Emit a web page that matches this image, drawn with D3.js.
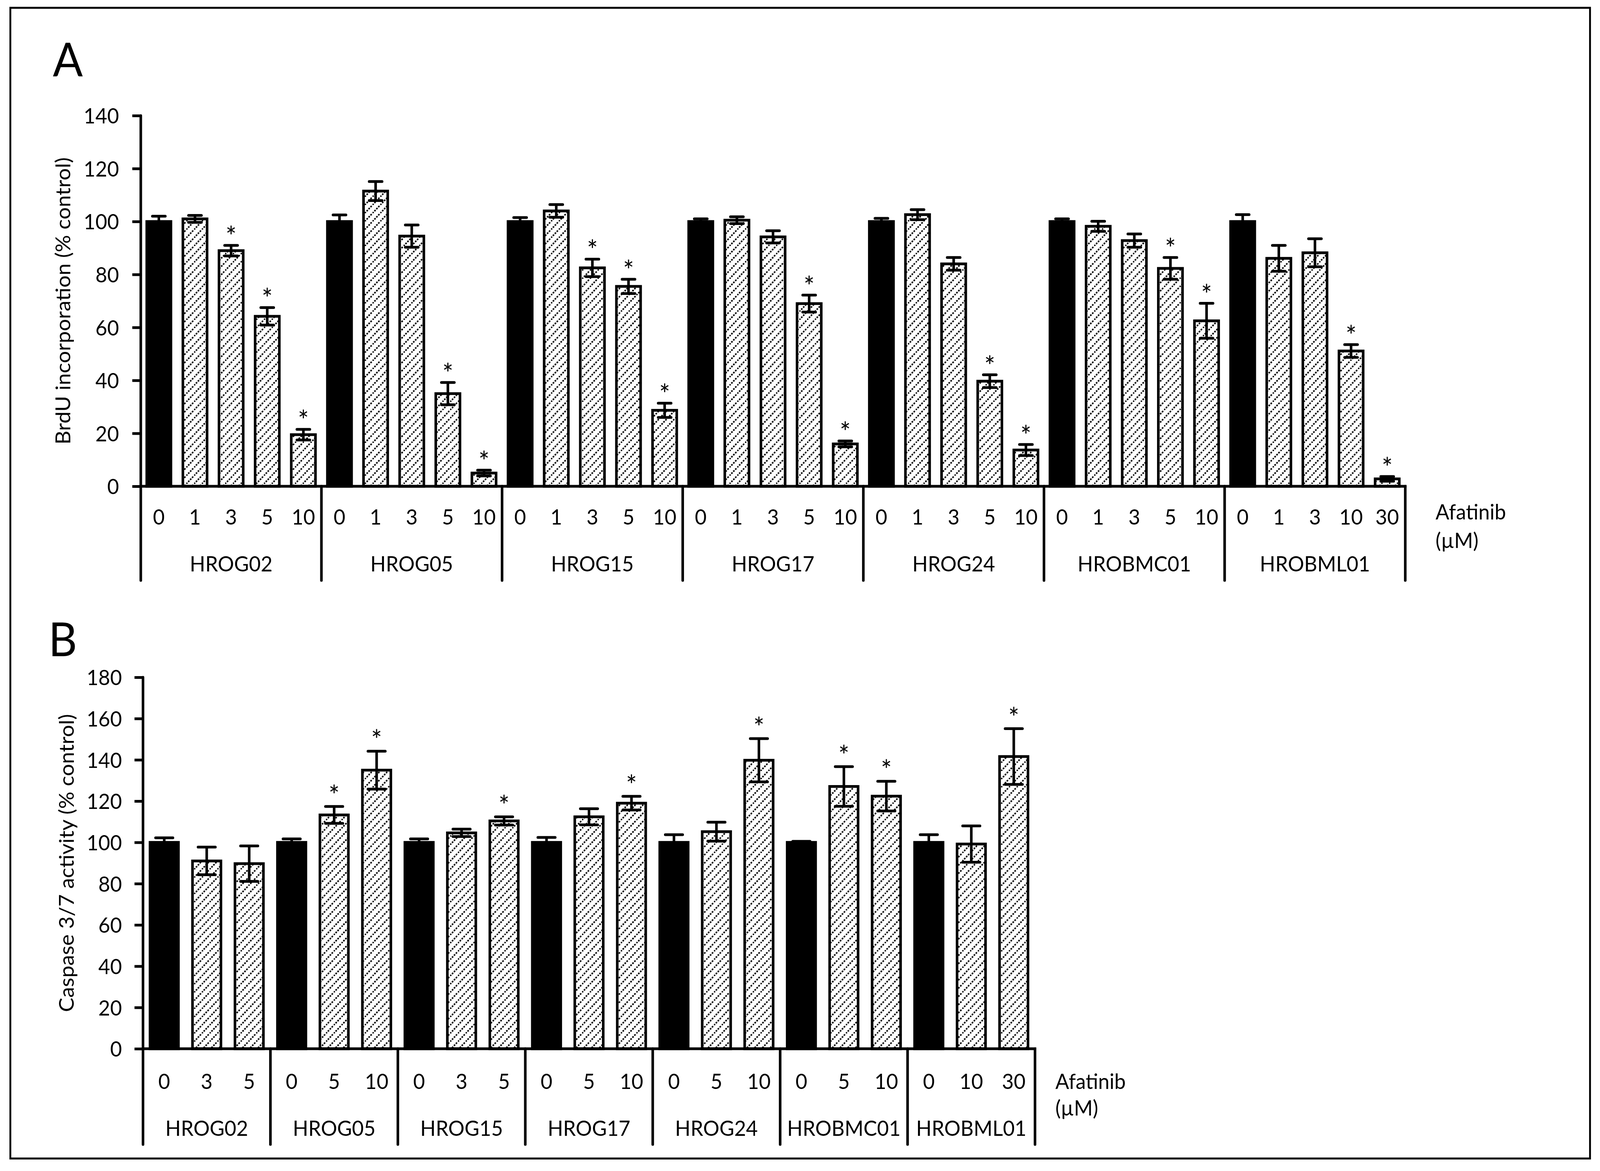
<!DOCTYPE html>
<html lang="en">
<head>
<meta charset="UTF-8">
<title>Afatinib: BrdU incorporation and caspase 3/7 activity</title>
<script src="https://d3js.org/d3.v7.min.js"></script>
<style>
    html, body { margin: 0; padding: 0; background: white; overflow: hidden; }
    #chart svg { display: block; width: 100vw; height: 100vh; }
    svg text { font-family: Lato, "Open Sans", sans-serif; fill: black; }
</style>
</head>
<body>
<div id="chart"></div>
<script>
    const cellLines = ["HROG02", "HROG05", "HROG15", "HROG17", "HROG24", "HROBMC01", "HROBML01"];

    // Panel A: BrdU incorporation (% control)
    const brduDoses = [[0, 1, 3, 5, 10], [0, 1, 3, 5, 10], [0, 1, 3, 5, 10], [0, 1, 3, 5, 10],
                       [0, 1, 3, 5, 10], [0, 1, 3, 5, 10], [0, 1, 3, 10, 30]];
    const brduMean = [[100, 101, 89, 64.2, 19.5], [100, 111.5, 94.5, 35, 5], [100, 104, 82.5, 75.5, 28.7],
                      [100, 100.5, 94.2, 69, 16], [100, 102.6, 84, 39.7, 13.7], [100, 98.2, 92.8, 82.3, 62.5],
                      [100, 86.1, 88.2, 51.1, 2.8]];
    const brduErr = [[2, 1.3, 2, 3.3, 2], [2.5, 3.6, 4.2, 4.2, 1.1], [1.5, 2.4, 3.3, 2.7, 2.7],
                     [1, 1.3, 2.3, 3.2, 1.1], [1.2, 1.9, 2.4, 2.4, 2.1], [1, 1.9, 2.5, 4.1, 6.6],
                     [2.6, 4.9, 5.3, 2.4, 0.9]];
    const brduSig = [[0, 0, 1, 1, 1], [0, 0, 0, 1, 1], [0, 0, 1, 1, 1], [0, 0, 0, 1, 1],
                     [0, 0, 0, 1, 1], [0, 0, 0, 1, 1], [0, 0, 0, 1, 1]];

    // Panel B: Caspase 3/7 activity (% control)
    const caspDoses = [[0, 3, 5], [0, 5, 10], [0, 3, 5], [0, 5, 10], [0, 5, 10], [0, 5, 10], [0, 10, 30]];
    const caspMean = [[100, 91, 89.7], [100, 113.3, 135], [100, 104.6, 110.4], [100, 112.4, 119],
                      [100, 105.2, 139.8], [100, 127.1, 122.4], [100, 99.2, 141.6]];
    const caspErr = [[2.2, 6.7, 8.6], [1.7, 4.1, 9.2], [1.7, 1.8, 2], [2.4, 3.9, 3.3],
                     [3.7, 4.6, 10.5], [0.5, 9.6, 7.2], [3.7, 8.8, 13.5]];
    const caspSig = [[0, 0, 0], [0, 1, 1], [0, 0, 1], [0, 0, 1], [0, 0, 1], [0, 1, 1], [0, 0, 1]];

    const brduTicks = [0, 20, 40, 60, 80, 100, 120, 140];
    const caspTicks = [0, 20, 40, 60, 80, 100, 120, 140, 160, 180];

    const width = 4330;
    const height = 2998;
    const fontSize = 55;
    const lineW = 7;

    // drawn in a 4330x2998 frame, stretched to whatever the window is
    const svg = d3.select('#chart')
        .append('svg')
        .attr('viewBox', `0 0 ${width} ${height}`)
        .attr('preserveAspectRatio', 'none');

    svg.append('rect')
        .attr('width', width)
        .attr('height', height)
        .attr('fill', 'white');

    // dotted upward diagonal hatch
    const pat = svg.append('defs')
        .append('pattern')
        .attr('id', 'hatch')
        .attr('patternUnits', 'userSpaceOnUse')
        .attr('width', 21)
        .attr('height', 21);
    pat.append('rect').attr('width', 21).attr('height', 21).attr('fill', 'white');
    pat.append('path')
        .attr('d', 'M0,21 L21,0')
        .attr('stroke', 'black')
        .attr('stroke-width', 4)
        .attr('stroke-dasharray', '4.4 3');

    // outer frame
    svg.append('rect')
        .attr('x', 28).attr('y', 20)
        .attr('width', 4275).attr('height', 2946)
        .attr('fill', 'none')
        .attr('stroke', 'black')
        .attr('stroke-width', 5);

    const panels = [
        {
            letter: 'A', letterX: 143, letterY: 196,
            doses: brduDoses, means: brduMean, errs: brduErr, sig: brduSig, ticks: brduTicks,
            yMax: 140, top: 296, base: 1245, left: 381, right: 3803, bracketBottom: 1486,
            tickLabelEnd: 322, yLabel: 'BrdU incorporation (% control)', yLabelX: 190,
            doseY: 1343, groupY: 1463, unitX: 3885, unitY: [1330, 1403], capW: 42, starGap: 4
        },
        {
            letter: 'B', letterX: 131, letterY: 1680,
            doses: caspDoses, means: caspMean, errs: caspErr, sig: caspSig, ticks: caspTicks,
            yMax: 180, top: 1734, base: 2685, left: 387, right: 2801, bracketBottom: 2930,
            tickLabelEnd: 330, yLabel: 'Caspase 3/7 activity (% control)', yLabelX: 200,
            doseY: 2788, groupY: 2908, unitX: 2856, unitY: [2788, 2856], capW: 54, starGap: 10
        }
    ];

    panels.forEach(p => {
        const g = svg.append('g');

        const y = d3.scaleLinear().domain([0, p.yMax]).range([p.base, p.top]);
        const x0 = d3.scaleBand().domain(cellLines).range([p.left, p.right]);
        const nDose = p.doses[0].length;
        const x1 = d3.scaleBand()
            .domain(d3.range(nDose))
            .range([0, x0.bandwidth()])
            .paddingInner(0.33)
            .paddingOuter(0.165);

        // panel letter
        g.append('text')
            .attr('x', p.letterX)
            .attr('y', p.letterY)
            .attr('font-size', 120)
            .text(p.letter);

        // y axis ticks + labels
        const tickSize = 23;
        const yAxis = g.append('g')
            .attr('transform', `translate(${p.left},0)`)
            .call(d3.axisLeft(y)
                .tickValues(p.ticks)
                .tickSize(tickSize)
                .tickSizeOuter(0)
                .tickPadding(p.left - tickSize - p.tickLabelEnd));
        yAxis.select('.domain').remove();
        yAxis.selectAll('line').attr('stroke', 'black').attr('stroke-width', lineW);
        yAxis.selectAll('text')
            .attr('font-size', fontSize)
            .attr('dy', '0.36em');
        yAxis.attr('font-family', null).attr('font-size', null);

        // y label
        g.append('text')
            .attr('transform', `translate(${p.yLabelX},${(p.top + p.base) / 2}) rotate(-90)`)
            .attr('text-anchor', 'middle')
            .attr('font-size', fontSize)
            .text(p.yLabel);

        // bars
        const bars = [];
        cellLines.forEach((c, gi) => {
            p.doses[gi].forEach((d, di) => {
                bars.push({
                    cell: c, gi, di, dose: d,
                    mean: p.means[gi][di], err: p.errs[gi][di], sig: p.sig[gi][di],
                    x: x0(c) + x1(di), w: x1.bandwidth()
                });
            });
        });

        g.append('g')
            .selectAll('rect')
            .data(bars)
            .join('rect')
            .attr('x', d => d.x)
            .attr('y', d => y(d.mean))
            .attr('width', d => d.w)
            .attr('height', d => p.base - y(d.mean))
            .attr('fill', d => d.di === 0 ? 'black' : 'url(#hatch)')
            .attr('stroke', 'black')
            .attr('stroke-width', lineW);

        // error bars
        const eb = g.append('g')
            .attr('stroke', 'black')
            .attr('stroke-width', lineW)
            .selectAll('g')
            .data(bars)
            .join('g');
        eb.append('line')
            .attr('x1', d => d.x + d.w / 2).attr('x2', d => d.x + d.w / 2)
            .attr('y1', d => y(d.mean + d.err)).attr('y2', d => y(d.mean - d.err));
        eb.append('line')
            .attr('stroke-linecap', 'round')
            .attr('x1', d => d.x + d.w / 2 - p.capW / 2 + 3.5).attr('x2', d => d.x + d.w / 2 + p.capW / 2 - 3.5)
            .attr('y1', d => y(d.mean + d.err)).attr('y2', d => y(d.mean + d.err));
        eb.append('line')
            .attr('stroke-linecap', 'round')
            .attr('x1', d => d.x + d.w / 2 - p.capW / 2 + 3.5).attr('x2', d => d.x + d.w / 2 + p.capW / 2 - 3.5)
            .attr('y1', d => y(d.mean - d.err)).attr('y2', d => y(d.mean - d.err));

        // significance stars
        g.append('g')
            .selectAll('text')
            .data(bars.filter(d => d.sig))
            .join('text')
            .attr('x', d => d.x + d.w / 2)
            .attr('y', d => y(d.mean + d.err) - p.starGap + 6)
            .attr('text-anchor', 'middle')
            .attr('font-size', 70)
            .text('*');

        // axis lines and group brackets
        const lines = g.append('g')
            .attr('stroke', 'black')
            .attr('stroke-width', lineW);
        lines.append('line')
            .attr('x1', p.left).attr('x2', p.right)
            .attr('y1', p.base).attr('y2', p.base)
            .attr('stroke-linecap', 'square');
        const bounds = cellLines.map(c => x0(c)).concat([p.right]);
        lines.selectAll('.div')
            .data(bounds)
            .join('line')
            .attr('class', 'div')
            .attr('stroke-linecap', 'round')
            .attr('x1', d => d).attr('x2', d => d)
            .attr('y1', (d, i) => i === 0 ? p.top : p.base)
            .attr('y2', p.bracketBottom);

        // dose labels
        g.append('g')
            .selectAll('text')
            .data(bars)
            .join('text')
            .attr('x', d => d.x + d.w / 2)
            .attr('y', p.doseY)
            .attr('text-anchor', 'middle')
            .attr('font-size', fontSize)
            .text(d => d.dose);

        // cell line labels
        g.append('g')
            .selectAll('text')
            .data(cellLines)
            .join('text')
            .attr('x', d => x0(d) + x0.bandwidth() / 2)
            .attr('y', p.groupY)
            .attr('text-anchor', 'middle')
            .attr('font-size', fontSize)
            .text(d => d);

        // unit label
        g.append('text')
            .attr('x', p.unitX).attr('y', p.unitY[0])
            .attr('font-size', fontSize)
            .text('Afatinib');
        g.append('text')
            .attr('x', p.unitX).attr('y', p.unitY[1])
            .attr('font-size', fontSize)
            .text('(µM)');
    });
</script>
</body>
</html>
